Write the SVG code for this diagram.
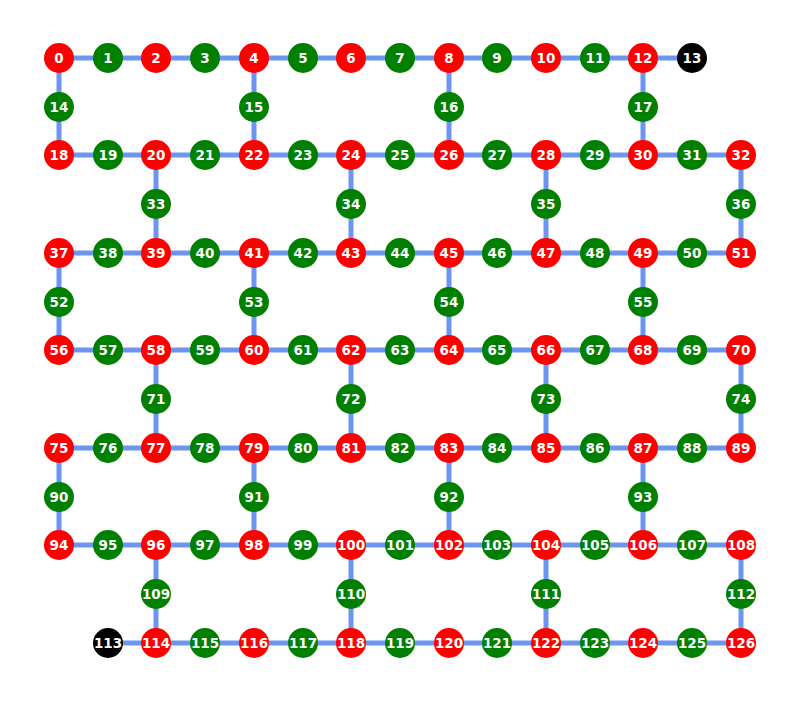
<svg xmlns="http://www.w3.org/2000/svg" width="800" height="703" viewBox="0 0 800 703">
<style>
.e line{stroke:#6b95f0;stroke-width:5}
circle{r:15px}
.r circle{fill:#ff0000}
.g circle{fill:#008000}
.k circle{fill:#000000}
text{font-family:"DejaVu Sans",sans-serif;font-weight:bold;font-size:13.5px;fill:#fff;text-anchor:middle}
</style>
<rect width="800" height="703" fill="#fff"/>
<g id="edges" class="e">
<line x1="59" y1="58" x2="108" y2="58"/><line x1="108" y1="58" x2="156" y2="58"/><line x1="156" y1="58" x2="205" y2="58"/><line x1="205" y1="58" x2="254" y2="58"/><line x1="254" y1="58" x2="303" y2="58"/><line x1="303" y1="58" x2="351" y2="58"/><line x1="351" y1="58" x2="400" y2="58"/><line x1="400" y1="58" x2="449" y2="58"/><line x1="449" y1="58" x2="497" y2="58"/><line x1="497" y1="58" x2="546" y2="58"/><line x1="546" y1="58" x2="595" y2="58"/><line x1="595" y1="58" x2="643" y2="58"/><line x1="643" y1="58" x2="692" y2="58"/>
<line x1="59" y1="155" x2="108" y2="155"/><line x1="108" y1="155" x2="156" y2="155"/><line x1="156" y1="155" x2="205" y2="155"/><line x1="205" y1="155" x2="254" y2="155"/><line x1="254" y1="155" x2="303" y2="155"/><line x1="303" y1="155" x2="351" y2="155"/><line x1="351" y1="155" x2="400" y2="155"/><line x1="400" y1="155" x2="449" y2="155"/><line x1="449" y1="155" x2="497" y2="155"/><line x1="497" y1="155" x2="546" y2="155"/><line x1="546" y1="155" x2="595" y2="155"/><line x1="595" y1="155" x2="643" y2="155"/><line x1="643" y1="155" x2="692" y2="155"/><line x1="692" y1="155" x2="741" y2="155"/>
<line x1="59" y1="253" x2="108" y2="253"/><line x1="108" y1="253" x2="156" y2="253"/><line x1="156" y1="253" x2="205" y2="253"/><line x1="205" y1="253" x2="254" y2="253"/><line x1="254" y1="253" x2="303" y2="253"/><line x1="303" y1="253" x2="351" y2="253"/><line x1="351" y1="253" x2="400" y2="253"/><line x1="400" y1="253" x2="449" y2="253"/><line x1="449" y1="253" x2="497" y2="253"/><line x1="497" y1="253" x2="546" y2="253"/><line x1="546" y1="253" x2="595" y2="253"/><line x1="595" y1="253" x2="643" y2="253"/><line x1="643" y1="253" x2="692" y2="253"/><line x1="692" y1="253" x2="741" y2="253"/>
<line x1="59" y1="350" x2="108" y2="350"/><line x1="108" y1="350" x2="156" y2="350"/><line x1="156" y1="350" x2="205" y2="350"/><line x1="205" y1="350" x2="254" y2="350"/><line x1="254" y1="350" x2="303" y2="350"/><line x1="303" y1="350" x2="351" y2="350"/><line x1="351" y1="350" x2="400" y2="350"/><line x1="400" y1="350" x2="449" y2="350"/><line x1="449" y1="350" x2="497" y2="350"/><line x1="497" y1="350" x2="546" y2="350"/><line x1="546" y1="350" x2="595" y2="350"/><line x1="595" y1="350" x2="643" y2="350"/><line x1="643" y1="350" x2="692" y2="350"/><line x1="692" y1="350" x2="741" y2="350"/>
<line x1="59" y1="448" x2="108" y2="448"/><line x1="108" y1="448" x2="156" y2="448"/><line x1="156" y1="448" x2="205" y2="448"/><line x1="205" y1="448" x2="254" y2="448"/><line x1="254" y1="448" x2="303" y2="448"/><line x1="303" y1="448" x2="351" y2="448"/><line x1="351" y1="448" x2="400" y2="448"/><line x1="400" y1="448" x2="449" y2="448"/><line x1="449" y1="448" x2="497" y2="448"/><line x1="497" y1="448" x2="546" y2="448"/><line x1="546" y1="448" x2="595" y2="448"/><line x1="595" y1="448" x2="643" y2="448"/><line x1="643" y1="448" x2="692" y2="448"/><line x1="692" y1="448" x2="741" y2="448"/>
<line x1="59" y1="545" x2="108" y2="545"/><line x1="108" y1="545" x2="156" y2="545"/><line x1="156" y1="545" x2="205" y2="545"/><line x1="205" y1="545" x2="254" y2="545"/><line x1="254" y1="545" x2="303" y2="545"/><line x1="303" y1="545" x2="351" y2="545"/><line x1="351" y1="545" x2="400" y2="545"/><line x1="400" y1="545" x2="449" y2="545"/><line x1="449" y1="545" x2="497" y2="545"/><line x1="497" y1="545" x2="546" y2="545"/><line x1="546" y1="545" x2="595" y2="545"/><line x1="595" y1="545" x2="643" y2="545"/><line x1="643" y1="545" x2="692" y2="545"/><line x1="692" y1="545" x2="741" y2="545"/>
<line x1="108" y1="643" x2="156" y2="643"/><line x1="156" y1="643" x2="205" y2="643"/><line x1="205" y1="643" x2="254" y2="643"/><line x1="254" y1="643" x2="303" y2="643"/><line x1="303" y1="643" x2="351" y2="643"/><line x1="351" y1="643" x2="400" y2="643"/><line x1="400" y1="643" x2="449" y2="643"/><line x1="449" y1="643" x2="497" y2="643"/><line x1="497" y1="643" x2="546" y2="643"/><line x1="546" y1="643" x2="595" y2="643"/><line x1="595" y1="643" x2="643" y2="643"/><line x1="643" y1="643" x2="692" y2="643"/><line x1="692" y1="643" x2="741" y2="643"/>
<line x1="59" y1="58" x2="59" y2="107"/><line x1="59" y1="107" x2="59" y2="155"/><line x1="254" y1="58" x2="254" y2="107"/><line x1="254" y1="107" x2="254" y2="155"/><line x1="449" y1="58" x2="449" y2="107"/><line x1="449" y1="107" x2="449" y2="155"/><line x1="643" y1="58" x2="643" y2="107"/><line x1="643" y1="107" x2="643" y2="155"/>
<line x1="156" y1="155" x2="156" y2="204"/><line x1="156" y1="204" x2="156" y2="253"/><line x1="351" y1="155" x2="351" y2="204"/><line x1="351" y1="204" x2="351" y2="253"/><line x1="546" y1="155" x2="546" y2="204"/><line x1="546" y1="204" x2="546" y2="253"/><line x1="741" y1="155" x2="741" y2="204"/><line x1="741" y1="204" x2="741" y2="253"/>
<line x1="59" y1="253" x2="59" y2="302"/><line x1="59" y1="302" x2="59" y2="350"/><line x1="254" y1="253" x2="254" y2="302"/><line x1="254" y1="302" x2="254" y2="350"/><line x1="449" y1="253" x2="449" y2="302"/><line x1="449" y1="302" x2="449" y2="350"/><line x1="643" y1="253" x2="643" y2="302"/><line x1="643" y1="302" x2="643" y2="350"/>
<line x1="156" y1="350" x2="156" y2="399"/><line x1="156" y1="399" x2="156" y2="448"/><line x1="351" y1="350" x2="351" y2="399"/><line x1="351" y1="399" x2="351" y2="448"/><line x1="546" y1="350" x2="546" y2="399"/><line x1="546" y1="399" x2="546" y2="448"/><line x1="741" y1="350" x2="741" y2="399"/><line x1="741" y1="399" x2="741" y2="448"/>
<line x1="59" y1="448" x2="59" y2="497"/><line x1="59" y1="497" x2="59" y2="545"/><line x1="254" y1="448" x2="254" y2="497"/><line x1="254" y1="497" x2="254" y2="545"/><line x1="449" y1="448" x2="449" y2="497"/><line x1="449" y1="497" x2="449" y2="545"/><line x1="643" y1="448" x2="643" y2="497"/><line x1="643" y1="497" x2="643" y2="545"/>
<line x1="156" y1="545" x2="156" y2="594"/><line x1="156" y1="594" x2="156" y2="643"/><line x1="351" y1="545" x2="351" y2="594"/><line x1="351" y1="594" x2="351" y2="643"/><line x1="546" y1="545" x2="546" y2="594"/><line x1="546" y1="594" x2="546" y2="643"/><line x1="741" y1="545" x2="741" y2="594"/><line x1="741" y1="594" x2="741" y2="643"/>
</g>
<g id="n0" class="r" transform="translate(59,58)"><circle/><text y="4.8">0</text></g>
<g id="n1" class="g" transform="translate(108,58)"><circle/><text y="4.8">1</text></g>
<g id="n2" class="r" transform="translate(156,58)"><circle/><text y="4.8">2</text></g>
<g id="n3" class="g" transform="translate(205,58)"><circle/><text y="4.8">3</text></g>
<g id="n4" class="r" transform="translate(254,58)"><circle/><text y="4.8">4</text></g>
<g id="n5" class="g" transform="translate(303,58)"><circle/><text y="4.8">5</text></g>
<g id="n6" class="r" transform="translate(351,58)"><circle/><text y="4.8">6</text></g>
<g id="n7" class="g" transform="translate(400,58)"><circle/><text y="4.8">7</text></g>
<g id="n8" class="r" transform="translate(449,58)"><circle/><text y="4.8">8</text></g>
<g id="n9" class="g" transform="translate(497,58)"><circle/><text y="4.8">9</text></g>
<g id="n10" class="r" transform="translate(546,58)"><circle/><text y="4.8">10</text></g>
<g id="n11" class="g" transform="translate(595,58)"><circle/><text y="4.8">11</text></g>
<g id="n12" class="r" transform="translate(643,58)"><circle/><text y="4.8">12</text></g>
<g id="n13" class="k" transform="translate(692,58)"><circle/><text y="4.8">13</text></g>
<g id="n14" class="g" transform="translate(59,107)"><circle/><text y="4.8">14</text></g>
<g id="n15" class="g" transform="translate(254,107)"><circle/><text y="4.8">15</text></g>
<g id="n16" class="g" transform="translate(449,107)"><circle/><text y="4.8">16</text></g>
<g id="n17" class="g" transform="translate(643,107)"><circle/><text y="4.8">17</text></g>
<g id="n18" class="r" transform="translate(59,155)"><circle/><text y="4.8">18</text></g>
<g id="n19" class="g" transform="translate(108,155)"><circle/><text y="4.8">19</text></g>
<g id="n20" class="r" transform="translate(156,155)"><circle/><text y="4.8">20</text></g>
<g id="n21" class="g" transform="translate(205,155)"><circle/><text y="4.8">21</text></g>
<g id="n22" class="r" transform="translate(254,155)"><circle/><text y="4.8">22</text></g>
<g id="n23" class="g" transform="translate(303,155)"><circle/><text y="4.8">23</text></g>
<g id="n24" class="r" transform="translate(351,155)"><circle/><text y="4.8">24</text></g>
<g id="n25" class="g" transform="translate(400,155)"><circle/><text y="4.8">25</text></g>
<g id="n26" class="r" transform="translate(449,155)"><circle/><text y="4.8">26</text></g>
<g id="n27" class="g" transform="translate(497,155)"><circle/><text y="4.8">27</text></g>
<g id="n28" class="r" transform="translate(546,155)"><circle/><text y="4.8">28</text></g>
<g id="n29" class="g" transform="translate(595,155)"><circle/><text y="4.8">29</text></g>
<g id="n30" class="r" transform="translate(643,155)"><circle/><text y="4.8">30</text></g>
<g id="n31" class="g" transform="translate(692,155)"><circle/><text y="4.8">31</text></g>
<g id="n32" class="r" transform="translate(741,155)"><circle/><text y="4.8">32</text></g>
<g id="n33" class="g" transform="translate(156,204)"><circle/><text y="4.8">33</text></g>
<g id="n34" class="g" transform="translate(351,204)"><circle/><text y="4.8">34</text></g>
<g id="n35" class="g" transform="translate(546,204)"><circle/><text y="4.8">35</text></g>
<g id="n36" class="g" transform="translate(741,204)"><circle/><text y="4.8">36</text></g>
<g id="n37" class="r" transform="translate(59,253)"><circle/><text y="4.8">37</text></g>
<g id="n38" class="g" transform="translate(108,253)"><circle/><text y="4.8">38</text></g>
<g id="n39" class="r" transform="translate(156,253)"><circle/><text y="4.8">39</text></g>
<g id="n40" class="g" transform="translate(205,253)"><circle/><text y="4.8">40</text></g>
<g id="n41" class="r" transform="translate(254,253)"><circle/><text y="4.8">41</text></g>
<g id="n42" class="g" transform="translate(303,253)"><circle/><text y="4.8">42</text></g>
<g id="n43" class="r" transform="translate(351,253)"><circle/><text y="4.8">43</text></g>
<g id="n44" class="g" transform="translate(400,253)"><circle/><text y="4.8">44</text></g>
<g id="n45" class="r" transform="translate(449,253)"><circle/><text y="4.8">45</text></g>
<g id="n46" class="g" transform="translate(497,253)"><circle/><text y="4.8">46</text></g>
<g id="n47" class="r" transform="translate(546,253)"><circle/><text y="4.8">47</text></g>
<g id="n48" class="g" transform="translate(595,253)"><circle/><text y="4.8">48</text></g>
<g id="n49" class="r" transform="translate(643,253)"><circle/><text y="4.8">49</text></g>
<g id="n50" class="g" transform="translate(692,253)"><circle/><text y="4.8">50</text></g>
<g id="n51" class="r" transform="translate(741,253)"><circle/><text y="4.8">51</text></g>
<g id="n52" class="g" transform="translate(59,302)"><circle/><text y="4.8">52</text></g>
<g id="n53" class="g" transform="translate(254,302)"><circle/><text y="4.8">53</text></g>
<g id="n54" class="g" transform="translate(449,302)"><circle/><text y="4.8">54</text></g>
<g id="n55" class="g" transform="translate(643,302)"><circle/><text y="4.8">55</text></g>
<g id="n56" class="r" transform="translate(59,350)"><circle/><text y="4.8">56</text></g>
<g id="n57" class="g" transform="translate(108,350)"><circle/><text y="4.8">57</text></g>
<g id="n58" class="r" transform="translate(156,350)"><circle/><text y="4.8">58</text></g>
<g id="n59" class="g" transform="translate(205,350)"><circle/><text y="4.8">59</text></g>
<g id="n60" class="r" transform="translate(254,350)"><circle/><text y="4.8">60</text></g>
<g id="n61" class="g" transform="translate(303,350)"><circle/><text y="4.8">61</text></g>
<g id="n62" class="r" transform="translate(351,350)"><circle/><text y="4.8">62</text></g>
<g id="n63" class="g" transform="translate(400,350)"><circle/><text y="4.8">63</text></g>
<g id="n64" class="r" transform="translate(449,350)"><circle/><text y="4.8">64</text></g>
<g id="n65" class="g" transform="translate(497,350)"><circle/><text y="4.8">65</text></g>
<g id="n66" class="r" transform="translate(546,350)"><circle/><text y="4.8">66</text></g>
<g id="n67" class="g" transform="translate(595,350)"><circle/><text y="4.8">67</text></g>
<g id="n68" class="r" transform="translate(643,350)"><circle/><text y="4.8">68</text></g>
<g id="n69" class="g" transform="translate(692,350)"><circle/><text y="4.8">69</text></g>
<g id="n70" class="r" transform="translate(741,350)"><circle/><text y="4.8">70</text></g>
<g id="n71" class="g" transform="translate(156,399)"><circle/><text y="4.8">71</text></g>
<g id="n72" class="g" transform="translate(351,399)"><circle/><text y="4.8">72</text></g>
<g id="n73" class="g" transform="translate(546,399)"><circle/><text y="4.8">73</text></g>
<g id="n74" class="g" transform="translate(741,399)"><circle/><text y="4.8">74</text></g>
<g id="n75" class="r" transform="translate(59,448)"><circle/><text y="4.8">75</text></g>
<g id="n76" class="g" transform="translate(108,448)"><circle/><text y="4.8">76</text></g>
<g id="n77" class="r" transform="translate(156,448)"><circle/><text y="4.8">77</text></g>
<g id="n78" class="g" transform="translate(205,448)"><circle/><text y="4.8">78</text></g>
<g id="n79" class="r" transform="translate(254,448)"><circle/><text y="4.8">79</text></g>
<g id="n80" class="g" transform="translate(303,448)"><circle/><text y="4.8">80</text></g>
<g id="n81" class="r" transform="translate(351,448)"><circle/><text y="4.8">81</text></g>
<g id="n82" class="g" transform="translate(400,448)"><circle/><text y="4.8">82</text></g>
<g id="n83" class="r" transform="translate(449,448)"><circle/><text y="4.8">83</text></g>
<g id="n84" class="g" transform="translate(497,448)"><circle/><text y="4.8">84</text></g>
<g id="n85" class="r" transform="translate(546,448)"><circle/><text y="4.8">85</text></g>
<g id="n86" class="g" transform="translate(595,448)"><circle/><text y="4.8">86</text></g>
<g id="n87" class="r" transform="translate(643,448)"><circle/><text y="4.8">87</text></g>
<g id="n88" class="g" transform="translate(692,448)"><circle/><text y="4.8">88</text></g>
<g id="n89" class="r" transform="translate(741,448)"><circle/><text y="4.8">89</text></g>
<g id="n90" class="g" transform="translate(59,497)"><circle/><text y="4.8">90</text></g>
<g id="n91" class="g" transform="translate(254,497)"><circle/><text y="4.8">91</text></g>
<g id="n92" class="g" transform="translate(449,497)"><circle/><text y="4.8">92</text></g>
<g id="n93" class="g" transform="translate(643,497)"><circle/><text y="4.8">93</text></g>
<g id="n94" class="r" transform="translate(59,545)"><circle/><text y="4.8">94</text></g>
<g id="n95" class="g" transform="translate(108,545)"><circle/><text y="4.8">95</text></g>
<g id="n96" class="r" transform="translate(156,545)"><circle/><text y="4.8">96</text></g>
<g id="n97" class="g" transform="translate(205,545)"><circle/><text y="4.8">97</text></g>
<g id="n98" class="r" transform="translate(254,545)"><circle/><text y="4.8">98</text></g>
<g id="n99" class="g" transform="translate(303,545)"><circle/><text y="4.8">99</text></g>
<g id="n100" class="r" transform="translate(351,545)"><circle/><text y="4.8">100</text></g>
<g id="n101" class="g" transform="translate(400,545)"><circle/><text y="4.8">101</text></g>
<g id="n102" class="r" transform="translate(449,545)"><circle/><text y="4.8">102</text></g>
<g id="n103" class="g" transform="translate(497,545)"><circle/><text y="4.8">103</text></g>
<g id="n104" class="r" transform="translate(546,545)"><circle/><text y="4.8">104</text></g>
<g id="n105" class="g" transform="translate(595,545)"><circle/><text y="4.8">105</text></g>
<g id="n106" class="r" transform="translate(643,545)"><circle/><text y="4.8">106</text></g>
<g id="n107" class="g" transform="translate(692,545)"><circle/><text y="4.8">107</text></g>
<g id="n108" class="r" transform="translate(741,545)"><circle/><text y="4.8">108</text></g>
<g id="n109" class="g" transform="translate(156,594)"><circle/><text y="4.8">109</text></g>
<g id="n110" class="g" transform="translate(351,594)"><circle/><text y="4.8">110</text></g>
<g id="n111" class="g" transform="translate(546,594)"><circle/><text y="4.8">111</text></g>
<g id="n112" class="g" transform="translate(741,594)"><circle/><text y="4.8">112</text></g>
<g id="n113" class="k" transform="translate(108,643)"><circle/><text y="4.8">113</text></g>
<g id="n114" class="r" transform="translate(156,643)"><circle/><text y="4.8">114</text></g>
<g id="n115" class="g" transform="translate(205,643)"><circle/><text y="4.8">115</text></g>
<g id="n116" class="r" transform="translate(254,643)"><circle/><text y="4.8">116</text></g>
<g id="n117" class="g" transform="translate(303,643)"><circle/><text y="4.8">117</text></g>
<g id="n118" class="r" transform="translate(351,643)"><circle/><text y="4.8">118</text></g>
<g id="n119" class="g" transform="translate(400,643)"><circle/><text y="4.8">119</text></g>
<g id="n120" class="r" transform="translate(449,643)"><circle/><text y="4.8">120</text></g>
<g id="n121" class="g" transform="translate(497,643)"><circle/><text y="4.8">121</text></g>
<g id="n122" class="r" transform="translate(546,643)"><circle/><text y="4.8">122</text></g>
<g id="n123" class="g" transform="translate(595,643)"><circle/><text y="4.8">123</text></g>
<g id="n124" class="r" transform="translate(643,643)"><circle/><text y="4.8">124</text></g>
<g id="n125" class="g" transform="translate(692,643)"><circle/><text y="4.8">125</text></g>
<g id="n126" class="r" transform="translate(741,643)"><circle/><text y="4.8">126</text></g>
</svg>
